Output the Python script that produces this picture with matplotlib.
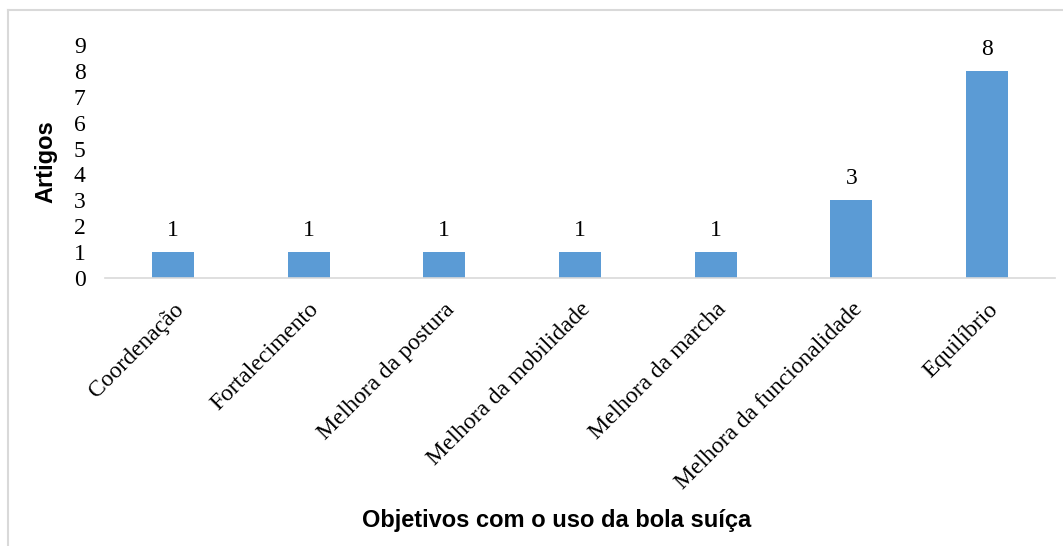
import matplotlib
matplotlib.use('Agg')
import matplotlib.pyplot as plt
from matplotlib.lines import Line2D

categorias = ['Coordenação', 'Fortalecimento', 'Melhora da postura',
              'Melhora da mobilidade', 'Melhora da marcha',
              'Melhora da funcionalidade', 'Equilíbrio']
artigos = [1, 1, 1, 1, 1, 3, 8]
y_ticks = list(range(0, 10))

W, H = 1063, 546
fig = plt.figure(figsize=(W/100, H/100), dpi=100)
fig.patch.set_facecolor('white')

# plot area in pixels: x 105..1055, y 45..278
ax = fig.add_axes([105/W, 1-278/H, 950/W, 233/H])
x = list(range(len(categorias)))
ax.bar(x, artigos, width=0.31, color='#5B9BD5', zorder=2)

serif = 'Liberation Serif'
for xi, v in zip(x, artigos):
    ax.annotate(str(v), (xi, v), xytext=(0, 8), textcoords='offset points',
                ha='center', va='bottom', fontsize=17, family=serif)

ax.set_xlim(-0.5, len(categorias)-0.5)
ax.set_ylim(0, 9)
ax.set_yticks(y_ticks)
ax.set_yticklabels([str(t) for t in y_ticks], fontsize=17, family=serif)
ax.set_xticks(x)
ax.set_xticklabels(categorias, rotation=45, ha='right', va='top',
                   rotation_mode='anchor', fontsize=17, family=serif)
ax.tick_params(axis='both', length=0)
ax.tick_params(axis='y', pad=14)
ax.tick_params(axis='x', pad=15)
for s in ['top', 'right', 'left']:
    ax.spines[s].set_visible(False)
ax.spines['bottom'].set_color('#D9D9D9')
ax.spines['bottom'].set_linewidth(1.2)

ax.set_ylabel('Artigos', fontsize=17, fontweight='bold',
              family='Liberation Sans', labelpad=12)
fig.text(557/W, 1-520/H, 'Objetivos com o uso da bola suíça', ha='center',
         va='center', fontsize=17, fontweight='bold', family='Liberation Sans')

# outer chart border (only top and left visible)
fig.add_artist(Line2D([8/W, 1], [1-10/H, 1-10/H], transform=fig.transFigure,
                      color='#D9D9D9', lw=1.5))
fig.add_artist(Line2D([8/W, 8/W], [0, 1-10/H], transform=fig.transFigure,
                      color='#D9D9D9', lw=1.5))

fig.savefig('out.png', dpi=100)
